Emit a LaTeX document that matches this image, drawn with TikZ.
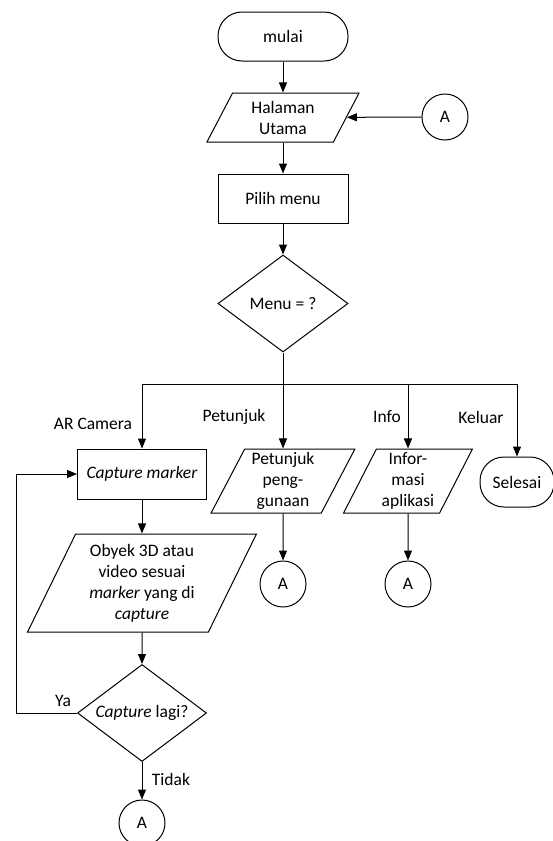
\documentclass[tikz,border=0pt]{standalone}
\usepackage{fontspec}
\setmainfont{Carlito}
\usetikzlibrary{shapes.geometric, arrows.meta, positioning}

\tikzset{
    terminal/.style={draw, rectangle, rounded corners=24pt, minimum width=130pt, minimum height=49pt},
    process/.style={draw, rectangle, minimum width=130pt, minimum height=49pt},
    io/.style={draw, trapezium, trapezium left angle=63.5, trapezium right angle=116.5,
        trapezium stretches=true, minimum height=49pt, inner xsep=1pt, inner ysep=0pt, align=center},
    decision/.style={draw, diamond, aspect=1.34, inner sep=0pt, minimum width=130pt, minimum height=97pt},
    connector/.style={draw, circle, minimum size=46pt, inner sep=0pt},
    flow/.style={-{Triangle[length=10pt,width=8pt]}},
}

\begin{document}
\begin{tikzpicture}[x=1pt, y=-1pt, line width=1pt, font=\fontsize{17.5pt}{21pt}\selectfont]
    \useasboundingbox (0,0) rectangle (552,841);

    % Start and main page
    \node[terminal] (mulai) at (283,36.5) {mulai};
    \node[io, minimum width=153pt] (halaman) at (283,117.5) {Halaman\\Utama};
    \node[connector] (a1) at (445,117) {A};
    \node[process] (pilih) at (283,198.5) {Pilih menu};
    \node[decision] (menu) at (283,303.5) {Menu = ?};
    \coordinate (fork) at (283,384);

    % Menu branches
    \node[process, minimum width=129pt, minimum height=50pt] (capture) at (142,474) {\textit{Capture marker}};
    \node[io, minimum width=144pt, minimum height=64pt] (petunjuk) at (283,481) {Petunjuk\\peng-\\gunaan};
    \node[io, minimum width=129pt, minimum height=64pt] (info) at (408,481) {Infor-\\masi\\aplikasi};
    \node[terminal, minimum width=74pt, minimum height=50pt] (selesai) at (517,482) {Selesai};
    \node[connector] (a2) at (283,584) {A};
    \node[connector] (a3) at (408,584) {A};

    % AR camera loop
    \node[io, minimum width=229pt, minimum height=98pt] (obyek) at (142,583) {Obyek 3D atau\\video sesuai\\\textit{marker} yang di\\\textit{capture}};
    \node[decision, minimum width=129pt] (lagi) at (142,713) {\textit{Capture} lagi?};
    \node[connector] (a4) at (142,823) {A};
    \coordinate (loop) at (16,713);

    % Labels
    \node (lblar) at (93,424) {AR Camera};
    \node (lblpetunjuk) at (234,417) {Petunjuk};
    \node (lblinfo) at (387,417) {Info};
    \node (lblkeluar) at (481,417) {Keluar};
    \node (lblya) at (63,701) {Ya};
    \node (lbltidak) at (171,779) {Tidak};

    % Draw the connectors
    \draw[flow] (mulai) -- (halaman);
    \draw[flow] (a1) -- (halaman);
    \draw[flow] (halaman) -- (pilih);
    \draw[flow] (pilih) -- (menu);
    \draw (menu) -- (fork);
    \draw[flow] (fork) -| (capture);
    \draw[flow] (fork) -- (petunjuk);
    \draw[flow] (fork) -| (info);
    \draw[flow] (fork) -| (selesai);
    \draw[flow] (petunjuk) -- (a2);
    \draw[flow] (info) -- (a3);
    \draw[flow] (capture) -- (obyek);
    \draw[flow] (obyek) -- (lagi);
    \draw[flow] (lagi) -- (a4);
    \draw[flow] (lagi.west) -- (loop) |- (capture.west);
\end{tikzpicture}
\end{document}
